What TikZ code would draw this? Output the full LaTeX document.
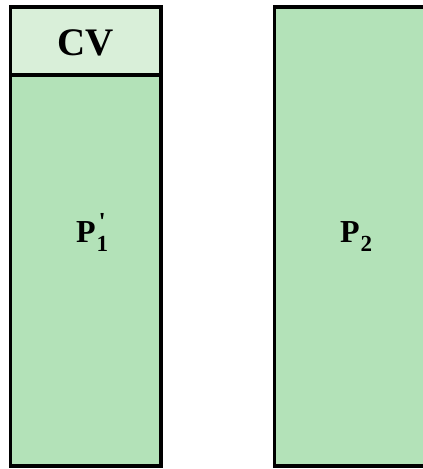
\documentclass[tikz,border=0pt]{standalone}
\usepackage{fontspec}
\setmainfont{Liberation Serif}
\definecolor{BlockGreen}{HTML}{B3E2B8}
\definecolor{HeadGreen}{HTML}{D9EFD9}
\newcommand{\bigsz}{\fontsize{32}{33}\selectfont}
\newcommand{\subsz}{\fontsize{23}{23}\selectfont}
\newcommand{\blockname}[2]{P\kern1pt\rlap{\fontsize{26}{26}\selectfont\raisebox{12pt}{\kern2pt#2}}\raisebox{-9pt}{\subsz#1}}

\begin{document}
\begin{tikzpicture}[x=1pt, y=-1pt,
  block/.style={rectangle, draw=black, fill=#1, line width=3.5pt,
                minimum width=150.5pt, inner sep=0pt},
  block/.default=BlockGreen,
  lbl/.style={font=\bfseries\bigsz, inner sep=0pt, anchor=base west},
]
  \useasboundingbox (0,0) rectangle (423,469);

  % Left column
  \node[block, minimum height=391pt] (p1box) at (85.75,270.5) {};
  \node[block=HeadGreen, minimum height=68pt] (cvbox) at (85.75,41) {};

  % Right column
  \node[block, minimum height=459pt] (p2box) at (349.75,236.5) {};

  % Labels
  \node[lbl, anchor=base, font=\bfseries\fontsize{39}{40}\selectfont] (cv) at (85.5,55) {CV};
  \node[lbl] (p1) at (76,242) {\blockname{1}{\textquotesingle}};
  \node[lbl] (p2) at (340,242) {\blockname{2}{}};
\end{tikzpicture}
\end{document}
